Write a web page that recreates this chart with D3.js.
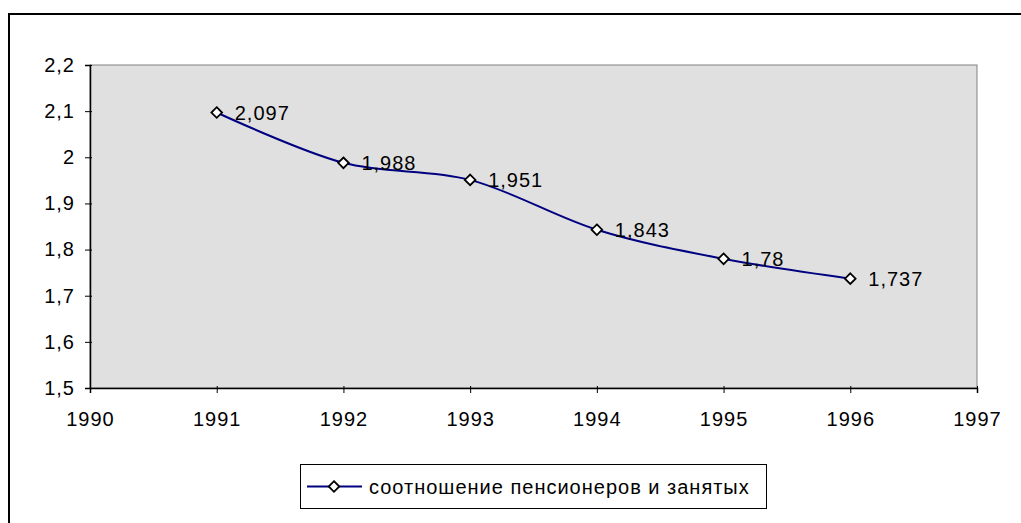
<!DOCTYPE html>
<html>
<head>
<meta charset="utf-8">
<script src="https://cdn.jsdelivr.net/npm/d3@7"></script>
<style>
  body { margin: 0; background: #fff; }
  text { font-family: "Liberation Sans", Arial, sans-serif; letter-spacing: 1px; }
</style>
</head>
<body>
<div id="chart"></div>
<script>
// data
var years = [1991, 1992, 1993, 1994, 1995, 1996];
var ratio = [2.097, 1.988, 1.951, 1.843, 1.78, 1.737];
var xTicks = [1990, 1991, 1992, 1993, 1994, 1995, 1996, 1997];
var yTicks = [1.5, 1.6, 1.7, 1.8, 1.9, 2.0, 2.1, 2.2];
var seriesName = "соотношение пенсионеров и занятых";

var width = 1021, height = 523;
var plotLeft = 90, plotRight = 977, plotTop = 65, plotBottom = 388;
var fs = 20;

var ru = d3.formatLocale({ decimal: ",", thousands: " ", grouping: [3], currency: ["", ""] });
var fmt = function(v) { return ru.format("")(v); };

var svg = d3.select("#chart").append("svg")
    .attr("width", width)
    .attr("height", height);

// outer chart border
svg.append("rect")
    .attr("x", 9).attr("y", 14)
    .attr("width", width + 20).attr("height", height + 20)
    .attr("fill", "none").attr("stroke", "#000").attr("stroke-width", 2);

var x = d3.scaleLinear().domain([1990, 1997]).range([plotLeft, plotRight]);
var y = d3.scaleLinear().domain([1.5, 2.2]).range([plotBottom, plotTop]);

// plot area
svg.append("rect")
    .attr("x", plotLeft).attr("y", plotTop)
    .attr("width", plotRight - plotLeft).attr("height", plotBottom - plotTop)
    .attr("fill", "#e0e0e0").attr("stroke", "#808080").attr("stroke-width", 1);

// y axis
var yAxis = svg.append("g")
    .attr("transform", "translate(" + plotLeft + ",0)")
    .call(d3.axisLeft(y).tickValues(yTicks).tickSize(5).tickPadding(10).tickFormat(fmt));
yAxis.select(".domain").attr("stroke", "#000").attr("stroke-width", 1.5);
yAxis.selectAll(".tick line").attr("stroke", "#000").attr("x2", -5).attr("x1", 2);
yAxis.selectAll(".tick text").attr("font-size", fs).attr("fill", "#000")
    .attr("font-family", "'Liberation Sans', Arial, sans-serif");

// x axis
var xAxis = svg.append("g")
    .attr("transform", "translate(0," + plotBottom + ")")
    .call(d3.axisBottom(x).tickValues(xTicks).tickSize(5).tickPadding(19).tickFormat(d3.format("d")));
xAxis.select(".domain").attr("stroke", "#000").attr("stroke-width", 1.5);
xAxis.selectAll(".tick line").attr("stroke", "#000").attr("y1", -2);
xAxis.selectAll(".tick text").attr("font-size", fs).attr("fill", "#000")
    .attr("font-family", "'Liberation Sans', Arial, sans-serif");

var pts = years.map(function(d, i) { return { year: d, value: ratio[i] }; });

// smoothed line
var line = d3.line()
    .x(function(d) { return x(d.year); })
    .y(function(d) { return y(d.value); })
    .curve(d3.curveCatmullRom.alpha(0));

svg.append("path")
    .datum(pts)
    .attr("d", line)
    .attr("fill", "none")
    .attr("stroke", "#000080")
    .attr("stroke-width", 2);

var diamond = d3.symbol().type(d3.symbolDiamond2).size(72);

svg.selectAll(".marker")
    .data(pts)
    .enter().append("path")
    .attr("class", "marker")
    .attr("d", diamond)
    .attr("transform", function(d) { return "translate(" + x(d.year) + "," + y(d.value) + ")"; })
    .attr("fill", "#fff").attr("stroke", "#000").attr("stroke-width", 1.8);

svg.selectAll(".label")
    .data(pts)
    .enter().append("text")
    .attr("class", "label")
    .attr("x", function(d) { return x(d.year) + 18; })
    .attr("y", function(d) { return y(d.value); })
    .attr("dy", "0.35em")
    .attr("font-size", fs)
    .text(function(d) { return fmt(d.value); });

// legend
var lg = svg.append("g");
lg.append("rect")
    .attr("x", 300.5).attr("y", 464.5).attr("width", 466).attr("height", 44)
    .attr("fill", "#fff").attr("stroke", "#000").attr("stroke-width", 1);
lg.append("line")
    .attr("x1", 307).attr("x2", 362).attr("y1", 486.5).attr("y2", 486.5)
    .attr("stroke", "#000080").attr("stroke-width", 2);
lg.append("path")
    .attr("d", diamond)
    .attr("transform", "translate(334,486.5)")
    .attr("fill", "#fff").attr("stroke", "#000").attr("stroke-width", 1.8);
lg.append("text")
    .attr("x", 369).attr("y", 486.5).attr("dy", "0.35em")
    .attr("font-size", fs)
    .text(seriesName);
</script>
</body>
</html>
